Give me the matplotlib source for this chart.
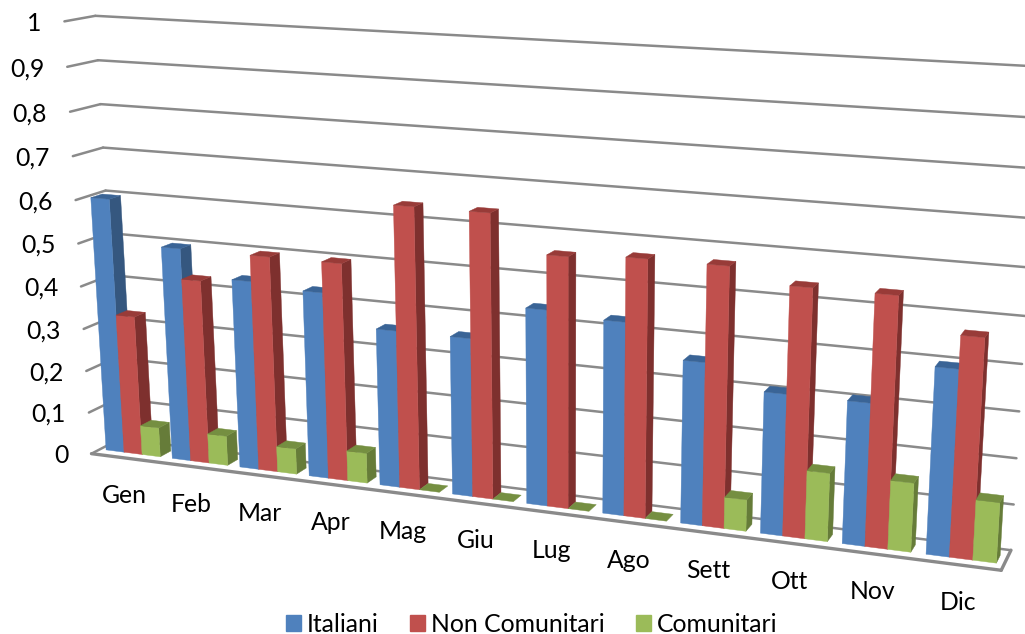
import numpy as np
from matplotlib import pyplot as plt
from matplotlib.patches import Patch

# Chart values
MONTHS = ["Gen", "Feb", "Mar", "Apr", "Mag", "Giu", "Lug", "Ago", "Sett", "Ott", "Nov", "Dic"]
ITALIANI = [0.60, 0.50, 0.44, 0.43, 0.36, 0.36, 0.44, 0.43, 0.36, 0.31, 0.31, 0.40]
NON_COMUNITARI = [0.33, 0.43, 0.50, 0.50, 0.64, 0.64, 0.56, 0.57, 0.57, 0.54, 0.54, 0.47]
COMUNITARI = [0.07, 0.07, 0.06, 0.07, 0.0, 0.0, 0.0, 0.0, 0.07, 0.15, 0.15, 0.13]
SERIES_NAMES = ["Italiani", "Non Comunitari", "Comunitari"]
Y_TICKS = [0, 0.1, 0.2, 0.3, 0.4, 0.5, 0.6, 0.7, 0.8, 0.9, 1]
Y_LABELS = ["0", "0,1", "0,2", "0,3", "0,4", "0,5", "0,6", "0,7", "0,8", "0,9", "1"]

# Styling: (front, top, side)
BLUE = ("#4F81BD", "#3A6496", "#35577F")
RED = ("#C0504D", "#983B38", "#7E302E")
GREEN = ("#9BBB59", "#758F41", "#667C39")
GRID_COLOR = "#8A8A8A"
FONT = "Lato"
FONT_SIZE = 17.8
BAR_Z = (0.3, 0.68)
BAR_GAP = 0.09

# Camera: (month, value, depth) -> pixel pairs used to calibrate the 3D view
CAMERA_WORLD = [
    (0, 0, 0), (0, 1, 0), (0, 0.5, 0), (0, 1, 1), (0, 0.5, 1), (0, 0, 1),
    (12, 0, 0), (12, 0, 1), (12, 0.2, 1), (12, 0.5, 1),
    (0.09, 0, 0.3), (5.09, 0, 0.3), (8.09, 0, 0.3), (11.09, 0, 0.3), (11.91, 0, 0.3),
]
CAMERA_PIXEL = [
    (91, 453), (65, 22), (78, 244), (95, 15), (108, 233), (121, 440),
    (1002, 570), (1011, 550), (1016, 458), (1025, 316),
    (106, 449), (452, 494), (681, 523), (927, 555), (995, 563),
]


def fit_camera(world, pixel):
    """Least squares fit of a 3x4 projection matrix"""
    rows = []
    rhs = []
    for (x, y, z), (u, v) in zip(world, pixel):
        rows.append([x, y, z, 1, 0, 0, 0, 0, -u * x, -u * y, -u * z])
        rows.append([0, 0, 0, 0, x, y, z, 1, -v * x, -v * y, -v * z])
        rhs += [u, v]
    sol = np.linalg.lstsq(np.array(rows, float), np.array(rhs, float), rcond=None)[0]
    return np.append(sol, 1).reshape(3, 4)


CAMERA = fit_camera(CAMERA_WORLD, CAMERA_PIXEL)


def project(x, y, z):
    """Project a chart position to figure pixels"""
    p = CAMERA @ np.array([x, y, z, 1.0])
    return p[0] / p[2], p[1] / p[2]


def draw_face(ax, corners, color, zorder):
    pts = [project(*c) for c in corners]
    ax.fill([p[0] for p in pts], [p[1] for p in pts], color=color, lw=0.3, zorder=zorder)


def draw_line(ax, start, end, width=1.8):
    a, b = project(*start), project(*end)
    ax.plot([a[0], b[0]], [a[1], b[1]], color=GRID_COLOR, lw=width, zorder=1,
            solid_capstyle="round")


def draw_bar(ax, x0, x1, value, colors, zorder):
    z0, z1 = BAR_Z
    if value > 0:
        draw_face(ax, [(x1, 0, z0), (x1, 0, z1), (x1, value, z1), (x1, value, z0)], colors[2], zorder)
        draw_face(ax, [(x0, 0, z0), (x1, 0, z0), (x1, value, z0), (x0, value, z0)], colors[0], zorder)
    draw_face(ax, [(x0, value, z0), (x1, value, z0), (x1, value, z1), (x0, value, z1)], colors[1], zorder)


def draw_axes_frame(ax):
    """Back wall and side wall gridlines, floor outline and value labels"""
    for tick, label in zip(Y_TICKS, Y_LABELS):
        draw_line(ax, (0, tick, 0), (0, tick, 1))
        draw_line(ax, (0, tick, 1), (12, tick, 1))
        px, py = project(0, tick, 0)
        ax.text(px - 23, py + 2, label, ha="right", va="center", fontsize=FONT_SIZE, family=FONT)
    draw_line(ax, (0, 0, 0), (12, 0, 0), 2.4)
    draw_line(ax, (12, 0, 0), (12, 0, 1), 2.4)


fig = plt.figure(figsize=(10.25, 6.34), dpi=100)
ax = fig.add_axes([0, 0, 1, 1])
ax.set_xlim(0, 1025)
ax.set_ylim(634, 0)
ax.axis("off")

draw_axes_frame(ax)

bar_width = (1 - 2 * BAR_GAP) / 3
for i, month in enumerate(MONTHS):
    values = (ITALIANI[i], NON_COMUNITARI[i], COMUNITARI[i])
    for j, (value, colors) in enumerate(zip(values, (BLUE, RED, GREEN))):
        x0 = i + BAR_GAP + j * bar_width
        draw_bar(ax, x0, x0 + bar_width, value, colors, 5 + i * 3 + j)
    px, py = project(i + 0.5, 0, 0)
    ax.text(px, py + 38, month, ha="center", va="center", fontsize=FONT_SIZE, family=FONT, zorder=60)

handles = [Patch(color=c[0], label=n) for c, n in zip((BLUE, RED, GREEN), SERIES_NAMES)]
ax.legend(
    handles=handles,
    loc="center",
    bbox_to_anchor=(532 / 1025, 1 - 624 / 634),
    ncol=3,
    frameon=False,
    prop={"family": FONT, "size": FONT_SIZE},
    handlelength=0.6,
    handleheight=0.6,
    handletextpad=0.25,
    columnspacing=1.27,
    borderpad=0,
)

fig.savefig("out.png", dpi=100)
